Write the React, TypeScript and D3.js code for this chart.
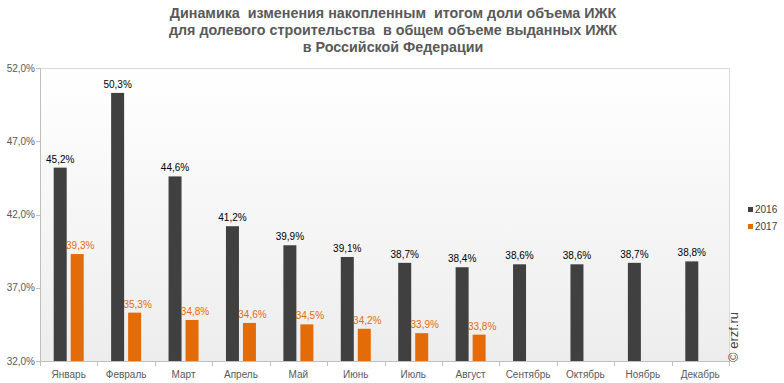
import React from "react";
import * as d3 from "d3";

const months = ["Январь","Февраль","Март","Апрель","Май","Июнь","Июль","Август","Сентябрь","Октябрь","Ноябрь","Декабрь"];
const values2016 = [45.2, 50.3, 44.6, 41.2, 39.9, 39.1, 38.7, 38.4, 38.6, 38.6, 38.7, 38.8];
const values2017 = [39.3, 35.3, 34.8, 34.6, 34.5, 34.2, 33.9, 33.8];
const yTicks = [32, 37, 42, 47, 52];
const seriesNames = ["2016", "2017"];
const titleLines = [
  "Динамика  изменения накопленным  итогом доли объема ИЖК",
  "для долевого строительства  в общем объеме выданных ИЖК",
  "в Российской Федерации",
];

const W = 784, H = 383;
const left = 40, right = 729, top = 68, bottom = 361;
const C16 = "#404040", C17 = "#E36C09";
const fmt = (v: number) => v.toFixed(1).replace(".", ",") + "%";

export default function App() {
  const x = d3.scaleBand<string>().domain(months).range([left, right]).padding(0);
  const y = d3.scaleLinear().domain([32, 52]).range([bottom, top]);
  const bw = 13, gap = 4;
  const font = "'Liberation Sans', Arial, sans-serif";
  return (
    <svg width={W} height={H} style={{ position: "absolute", left: 0, top: 0 }} fontFamily={font}>
      <defs>
        <linearGradient id="bg" x1="0" y1="0" x2="0" y2="1">
          <stop offset="0" stopColor="#ffffff" />
          <stop offset="1" stopColor="#ededed" />
        </linearGradient>
      </defs>
      <rect width={W} height={H} fill="#fff" />
      <rect x={left} y={top} width={right - left} height={bottom - top} fill="url(#bg)" />
      {titleLines.map((t, i) => (
        <text key={i} x={393} y={18 + i * 17} textAnchor="middle" fontSize={14.3} fontWeight="bold" fill="#595959"
          style={{ whiteSpace: "pre" }}>{t}</text>
      ))}
      <line x1={left} x2={right} y1={top + 0.5} y2={top + 0.5} stroke="#d9d9d9" />
      <line x1={right + 0.5} x2={right + 0.5} y1={top} y2={bottom} stroke="#d9d9d9" />
      <line x1={left + 0.5} x2={left + 0.5} y1={top} y2={bottom} stroke="#bfbfbf" />
      <line x1={left} x2={right} y1={bottom + 0.5} y2={bottom + 0.5} stroke="#bfbfbf" />
      {yTicks.map((t) => (
        <g key={t}>
          <line x1={left - 4} x2={left} y1={Math.round(y(t)) + 0.5} y2={Math.round(y(t)) + 0.5} stroke="#bfbfbf" />
          <text x={left - 5} y={y(t) + 3.5} textAnchor="end" fontSize={10} fill="#595959">{fmt(t)}</text>
        </g>
      ))}
      {months.map((m) => (
        <g key={m}>
          <line x1={Math.round(x(m)!) + 0.5} x2={Math.round(x(m)!) + 0.5} y1={bottom} y2={bottom + 5} stroke="#bfbfbf" />
          <text x={x(m)! + x.bandwidth() / 2} y={378} textAnchor="middle" fontSize={10} fill="#595959">{m}</text>
        </g>
      ))}
      <line x1={right + 0.5} x2={right + 0.5} y1={bottom} y2={bottom + 5} stroke="#bfbfbf" />
      {values2016.map((v, i) => {
        const cx = x(months[i])! + x.bandwidth() / 2;
        const bx = cx - gap / 2 - bw;
        return (
          <g key={"a" + i}>
            <rect x={bx} y={y(v)} width={bw} height={bottom - y(v)} fill={C16} />
            <text x={bx + bw / 2} y={y(v) - 5} textAnchor="middle" fontSize={10} fill="#000">{fmt(v)}</text>
          </g>
        );
      })}
      {values2017.map((v, i) => {
        const cx = x(months[i])! + x.bandwidth() / 2;
        const bx = cx + gap / 2;
        return (
          <g key={"b" + i}>
            <rect x={bx} y={y(v)} width={bw} height={bottom - y(v)} fill={C17} />
            <text x={bx + bw / 2 + 3} y={y(v) - 5} textAnchor="middle" fontSize={10} fill={C17}>{fmt(v)}</text>
          </g>
        );
      })}
      {seriesNames.map((s, i) => (
        <g key={s}>
          <rect x={748} y={207 + i * 17} width={5} height={5} fill={i === 0 ? C16 : C17} />
          <text x={755} y={213 + i * 17} fontSize={10} fill="#404040">{s}</text>
        </g>
      ))}
      <text transform="translate(738,362) rotate(-90)" fontSize={13} fill="#404040">© erzf.ru</text>
    </svg>
  );
}
